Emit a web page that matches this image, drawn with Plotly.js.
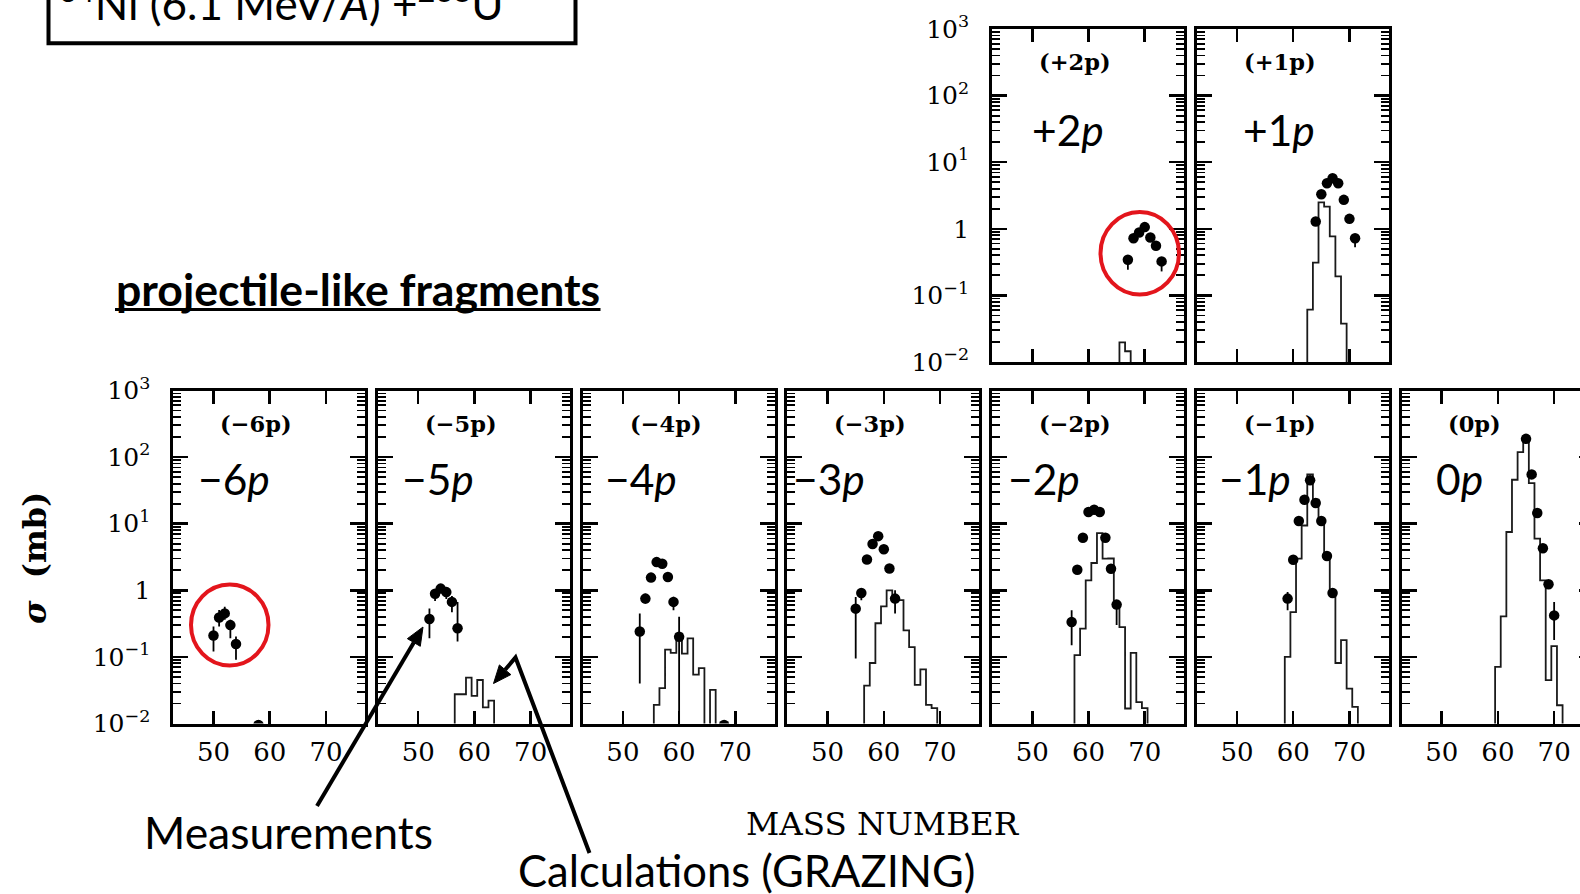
<!DOCTYPE html>
<html>
<head>
<meta charset="utf-8">
<script src="https://cdn.plot.ly/plotly-3.0.1.min.js"></script>
<style>
  html, body { margin: 0; padding: 0; overflow: hidden; background: #fff; }
  #chart { width: 1600px; height: 894px; }
</style>
</head>
<body>
<div id="chart"></div>
<script>
// ---- Measured cross sections (mb) per proton-transfer channel ----
const massM6 = [50, 51, 52, 53, 54, 58];
const sigM6  = [0.21, 0.39, 0.45, 0.30, 0.156, 0.0095];
const hiM6   = [0.075, 0.115, 0.115, 0.06, 0.047, 0];
const loM6   = [0.089, 0.105, 0.09, 0.11, 0.065, 0];

const massM5 = [52, 53, 54, 55, 56, 57];
const sigM5  = [0.37, 0.89, 1.06, 0.94, 0.67, 0.27];
const hiM5   = [0.165, 0.15, 0.1, 0.1, 0.15, 0.4];
const loM5   = [0.18, 0.2, 0.15, 0.2, 0.2, 0.1];

const massM4 = [53, 54, 55, 56, 57, 58, 59, 60, 68];
const sigM4  = [0.24, 0.75, 1.55, 2.65, 2.5, 1.58, 0.67, 0.20, 0.0095];
const hiM4   = [0.21, 0.14, 0, 0, 0, 0, 0.13, 0.2, 0];
const loM4   = [0.2, 0.12, 0, 0, 0, 0, 0.17, 0.199, 0];

const massM3 = [55, 56, 57, 58, 59, 60, 61, 62];
const sigM3  = [0.53, 0.91, 2.9, 4.97, 6.5, 4.14, 2.13, 0.75];
const hiM3   = [0.26, 0.15, 0, 0, 0, 0, 0, 0.25];
const loM3   = [0.435, 0.2, 0, 0, 0, 0, 0, 0.3];

const massM2 = [57, 58, 59, 60, 61, 62, 63, 64, 65];
const sigM2  = [0.335, 2.04, 6.17, 14.96, 16.2, 15.0, 6.17, 2.11, 0.61];
const hiM2   = [0.165, 0, 0, 0, 0, 0, 0, 0, 0.1];
const loM2   = [0.185, 0, 0, 0, 0, 0, 0, 0, 0.31];

const massM1 = [59, 60, 61, 62, 63, 64, 65, 66, 67];
const sigM1  = [0.75, 2.88, 10.96, 22.9, 45, 20.4, 10.96, 3.27, 0.91];
const hiM1   = [0.19, 0, 0, 0, 0, 0, 0, 0, 0];
const loM1   = [0.25, 0, 0, 0, 0, 0, 0, 0, 0];

const massZ0 = [65, 66, 67, 68, 69, 70];
const sigZ0  = [188, 55, 14.5, 4.27, 1.23, 0.42];
const hiZ0   = [0, 0, 0, 0, 0, 0.25];
const loZ0   = [0, 0, 0, 0, 0, 0.24];

const massP2 = [67, 68, 69, 70, 71, 72, 73];
const sigP2  = [0.343, 0.72, 0.88, 1.06, 0.74, 0.556, 0.324];
const hiP2   = [0.05, 0, 0, 0, 0, 0, 0.05];
const loP2   = [0.1, 0, 0, 0, 0, 0, 0.095];

const massP1 = [64, 65, 66, 67, 68, 69, 70, 71];
const sigP1  = [1.29, 3.31, 4.84, 5.75, 4.84, 2.72, 1.41, 0.72];
const hiP1   = [0, 0, 0, 0, 0, 0, 0, 0.1];
const loP1   = [0, 0, 0, 0, 0, 0, 0, 0.19];

// ---- GRAZING calculations (mb), one value per mass bin ----
const calcMassM6 = [];
const calcSigM6  = [];
const calcMassM5 = [57, 58, 59, 60, 61, 62, 63];
const calcSigM5  = [0.0275, 0.0275, 0.049, 0.026, 0.045, 0.0175, 0.022];
const calcMassM4 = [56, 57, 58, 59, 60, 61, 62, 63, 64, 65, 66];
const calcSigM4  = [0.019, 0.034, 0.129, 0.115, 0.224, 0.112, 0.19, 0.054, 0.068, 0, 0.032];
const calcMassM3 = [57, 58, 59, 60, 61, 62, 63, 64, 65, 66, 67, 68, 69];
const calcSigM3  = [0.037, 0.081, 0.32, 0.575, 1.0, 0.71, 0.71, 0.25, 0.14, 0.038, 0.065, 0.019, 0.017];
const calcMassM2 = [58, 59, 60, 61, 62, 63, 64, 65, 66, 67, 68, 69, 70];
const calcSigM2  = [0.106, 0.266, 1.41, 2.57, 7.24, 2.98, 3.0, 0.63, 0.28, 0.0168, 0.115, 0.021, 0.017];
const calcMassM1 = [59, 60, 61, 62, 63, 64, 65, 66, 67, 68, 69, 70, 71];
const calcSigM1  = [0.1, 0.47, 2.98, 9.4, 55, 22.9, 11.2, 3.0, 0.9, 0.081, 0.178, 0.0335, 0.0178];
const calcMassZ0 = [60, 61, 62, 63, 64, 65, 66, 67, 68, 69, 70, 71];
const calcSigZ0  = [0.071, 0.407, 7.5, 45.7, 119, 204, 40.7, 5.96, 1.41, 0.0447, 0.145, 0.0188];
const calcMassP2 = [66, 67];
const calcSigP2  = [0.0197, 0.0145];
const calcMassP1 = [63, 64, 65, 66, 67, 68, 69];
const calcSigP1  = [0.061, 0.31, 2.5, 2.16, 0.77, 0.193, 0.0376];

// ---- Labels ----
const channelTags = ['(−6p)', '(−5p)', '(−4p)', '(−3p)', '(−2p)', '(−1p)', '(0p)', '(+2p)', '(+1p)'];
const channelNames = ['−6<i>p</i>', '−5<i>p</i>', '−4<i>p</i>', '−3<i>p</i>', '−2<i>p</i>', '−1<i>p</i>', '0<i>p</i>', '+2<i>p</i>', '+1<i>p</i>'];
const xTickVals = [50, 60, 70];
const xTickText = ['50', '60', '70'];
const yTickVals = [0.01, 0.1, 1, 10, 100, 1000];
const yTickText = ['10<sup>−2</sup>', '10<sup>−1</sup>', '1', '10<sup>1</sup>', '10<sup>2</sup>', '10<sup>3</sup>'];

const measured = [
  [massM6, sigM6, hiM6, loM6], [massM5, sigM5, hiM5, loM5], [massM4, sigM4, hiM4, loM4],
  [massM3, sigM3, hiM3, loM3], [massM2, sigM2, hiM2, loM2], [massM1, sigM1, hiM1, loM1],
  [massZ0, sigZ0, hiZ0, loZ0], [massP2, sigP2, hiP2, loP2], [massP1, sigP1, hiP1, loP1]
];
const calculated = [
  [calcMassM6, calcSigM6], [calcMassM5, calcSigM5], [calcMassM4, calcSigM4],
  [calcMassM3, calcSigM3], [calcMassM2, calcSigM2], [calcMassM1, calcSigM1],
  [calcMassZ0, calcSigZ0], [calcMassP2, calcSigP2], [calcMassP1, calcSigP1]
];

// ---- Page geometry (pixels) ----
const W = 1600, H = 894;
const PW = 192, PH = 333;
const XR = [42.85, 77];
const FLOOR = 1e-4;   // off-scale level for empty bins
const px = x => x / W;
const py = y => 1 - y / H;

// panel frames: left edge, top edge
const frames = [];
for (let i = 0; i < 7; i++) frames.push({l: 173.3 + 204.7 * i, t: 390.5});
frames.push({l: 992.1, t: 29});
frames.push({l: 1196.8, t: 29});
const nameDx = [23, 22, 20, 4, 13.5, 20.5, 32.5, 37.5, 44.5];

const minorVals = [];
for (let e = -2; e < 3; e++) for (let k = 2; k <= 9; k++) minorVals.push(k * Math.pow(10, e));

const traces = [];
const layout = {
  width: W, height: H, margin: {l: 0, r: 0, t: 0, b: 0},
  paper_bgcolor: '#fff', plot_bgcolor: '#fff', showlegend: false,
  font: {family: 'DejaVu Serif', color: '#000'},
  shapes: [], annotations: []
};

frames.forEach((f, i) => {
  const s = i === 0 ? '' : String(i + 1);
  const bottomRow = i < 7;
  layout['xaxis' + s] = {
    domain: [px(f.l), px(f.l + PW)], range: XR, anchor: 'y' + s,
    showline: true, linewidth: 3, linecolor: '#000', mirror: 'allticks',
    ticks: 'inside', ticklen: 13, tickwidth: 2.5, tickcolor: '#000',
    tickmode: 'array', tickvals: xTickVals, ticktext: xTickText,
    showticklabels: bottomRow, ticklabelstandoff: 3,
    tickfont: {family: 'DejaVu Serif', size: 26, color: '#000'},
    showgrid: false, zeroline: false, fixedrange: true
  };
  layout['yaxis' + s] = {
    domain: [py(f.t + PH), py(f.t)], type: 'log', range: [-2, 3], anchor: 'x' + s,
    showline: true, linewidth: 3, linecolor: '#000', mirror: 'allticks',
    ticks: 'inside', ticklen: 15, tickwidth: 2.5, tickcolor: '#000',
    tickmode: 'array', tickvals: yTickVals, ticktext: yTickText,
    minor: {tickmode: 'array', tickvals: minorVals, ticks: 'inside', ticklen: 8,
            tickwidth: 1.8, tickcolor: '#000', showgrid: false},
    showticklabels: i === 0 || i === 7, ticklabelstandoff: 15,
    tickfont: {family: 'DejaVu Serif', size: 25, color: '#000'},
    showgrid: false, zeroline: false, fixedrange: true
  };

  // GRAZING histogram as a step outline
  const [cm, cs] = calculated[i];
  if (cm.length) {
    const hx = [cm[0] - 0.5], hy = [FLOOR];
    cm.forEach((m, k) => { hx.push(m - 0.5); hy.push(cs[k] > 0 ? cs[k] : FLOOR); });
    hx.push(cm[cm.length - 1] + 0.5); hy.push(FLOOR);
    traces.push({
      x: hx, y: hy, xaxis: 'x' + s, yaxis: 'y' + s, type: 'scatter', mode: 'lines',
      line: {shape: 'hv', width: 1.8, color: '#1a1a1a'}, hoverinfo: 'skip'
    });
  }

  // measured points with error bars
  const [mm, ms, mh, ml] = measured[i];
  traces.push({
    x: mm, y: ms, xaxis: 'x' + s, yaxis: 'y' + s, type: 'scatter', mode: 'markers',
    marker: {size: 10.5, color: '#000'},
    error_y: {type: 'data', symmetric: false, array: mh, arrayminus: ml,
              width: 0, thickness: 1.8, color: '#000'}
  });

  // channel tag and big channel name
  layout.annotations.push({
    xref: 'paper', yref: 'paper', x: px(f.l + 45), y: py(f.t + (bottomRow ? 33.5 : 33)),
    xanchor: 'left', yanchor: 'middle', showarrow: false, text: '<b>' + channelTags[i] + '</b>',
    font: {family: 'DejaVu Serif', size: 22.5, color: '#000'}
  });
  layout.annotations.push({
    xref: 'paper', yref: 'paper', x: px(f.l + nameDx[i]), y: py(bottomRow ? 478 : 130),
    xanchor: 'left', yanchor: 'middle', showarrow: false, text: channelNames[i],
    font: {family: 'Lato', size: 42.5, color: '#000'}
  });
});

// axis titles
layout.annotations.push({
  xref: 'paper', yref: 'paper', x: px(35), y: py(558), textangle: -90,
  xanchor: 'center', yanchor: 'middle', showarrow: false,
  text: '<b><i>σ</i>  (mb)</b>', font: {family: 'DejaVu Serif', size: 32, color: '#000'}
});
layout.annotations.push({
  xref: 'paper', yref: 'paper', x: px(883), y: py(824),
  xanchor: 'center', yanchor: 'middle', showarrow: false,
  text: 'MASS NUMBER', font: {family: 'DejaVu Serif', size: 32.5, color: '#000'}
});

// reaction title in its frame, heading and callouts
layout.annotations.push({
  xref: 'paper', yref: 'paper', x: px(57), y: py(31),
  xanchor: 'left', yanchor: 'bottom', showarrow: false,
  text: '<sup>64</sup>Ni (6.1 MeV/<i>A</i>) +<sup>238</sup>U',
  font: {family: 'Lato', size: 44, color: '#000'}
});
layout.annotations.push({
  xref: 'paper', yref: 'paper', x: px(114), y: py(288),
  xanchor: 'left', yanchor: 'middle', showarrow: false,
  text: '<b>projectile-like fragments</b>', font: {family: 'Lato', size: 44.6, color: '#000'}
});
layout.annotations.push({
  xref: 'paper', yref: 'paper', x: px(288), y: py(831),
  xanchor: 'center', yanchor: 'middle', showarrow: false,
  text: 'Measurements', font: {family: 'Lato', size: 44.5, color: '#000'}
});
layout.annotations.push({
  xref: 'paper', yref: 'paper', x: px(746), y: py(869.5),
  xanchor: 'center', yanchor: 'middle', showarrow: false,
  text: 'Calculations (GRAZING)', font: {family: 'Lato', size: 43.5, color: '#000'}
});

// frame around the reaction title, heading underline
layout.shapes.push({type: 'rect', xref: 'paper', yref: 'paper',
  x0: px(48.5), x1: px(575.5), y0: py(43.3), y1: py(-20),
  line: {color: '#000', width: 4}, fillcolor: 'rgba(0,0,0,0)'});
layout.shapes.push({type: 'line', xref: 'paper', yref: 'paper',
  x0: px(115), x1: px(600.5), y0: py(309.5), y1: py(309.5), line: {color: '#000', width: 3}});

// red highlight circles
layout.shapes.push({type: 'circle', xref: 'paper', yref: 'paper',
  x0: px(191), x1: px(268.5), y0: py(665.5), y1: py(584.5), line: {color: '#e3151c', width: 4}});
layout.shapes.push({type: 'circle', xref: 'paper', yref: 'paper',
  x0: px(1100.5), x1: px(1179), y0: py(294.5), y1: py(212), line: {color: '#e3151c', width: 4}});

// callout arrows
function arrow(path, tip) {
  const n = path.length;
  const from = path[n - 1];
  const dx = tip[0] - from[0], dy = tip[1] - from[1];
  const len = Math.hypot(dx, dy), ux = dx / len, uy = dy / len;
  const hl = 18, hw = 7.5;
  const bx = tip[0] - ux * hl, by = tip[1] - uy * hl;
  const pts = path.concat([[bx, by]]);
  const d = 'M ' + pts.map(p => px(p[0]) + ',' + py(p[1])).join(' L ');
  layout.shapes.push({type: 'path', xref: 'paper', yref: 'paper', path: d,
    line: {color: '#000', width: 4}});
  const c1 = [bx - uy * hw, by + ux * hw], c2 = [bx + uy * hw, by - ux * hw];
  const tri = 'M ' + [tip, c1, c2].map(p => px(p[0]) + ',' + py(p[1])).join(' L ') + ' Z';
  layout.shapes.push({type: 'path', xref: 'paper', yref: 'paper', path: tri,
    fillcolor: '#000', line: {color: '#000', width: 1}});
}
arrow([[317, 806]], [423, 627]);
arrow([[589.5, 853], [515.5, 657.5]], [493.5, 683.5]);

Plotly.newPlot('chart', traces, layout, {staticPlot: true, displayModeBar: false});
</script>
</body>
</html>
